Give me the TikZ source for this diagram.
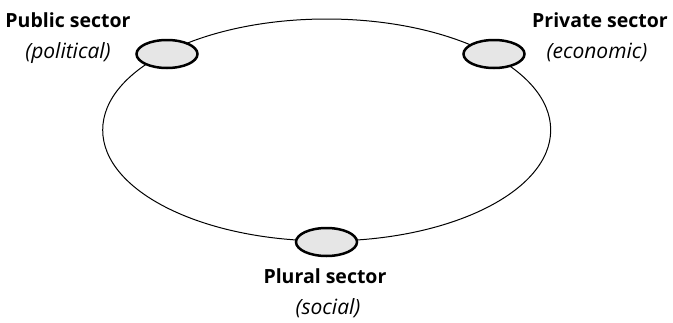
\documentclass[tikz,border=0pt]{standalone}
\usepackage{fontspec}
\setmainfont{Open Sans}
\usetikzlibrary{shapes.geometric}
\definecolor{sectorfill}{HTML}{E6E6E6}
\tikzset{
  sector/.style={ellipse, draw=black, line width=2.5pt, fill=sectorfill,
    minimum width=61pt, minimum height=28pt, inner sep=0pt},
  title/.style={font=\fontsize{19.5}{22}\selectfont\bfseries, inner sep=0pt, anchor=base},
  sub/.style={font=\fontsize{21}{24}\selectfont\itshape, inner sep=0pt, anchor=base},
}
\begin{document}
\begin{tikzpicture}[x=1pt,y=-1pt]
\useasboundingbox (0,0) rectangle (673,322);
\draw[line width=1pt] (326.7,130) ellipse [x radius=224, y radius=111];
\node[sector] (pub) at (167,54) {};
\node[sector] (pri) at (494,54) {};
\node[sector] (plu) at (326.5,242) {};
\node[title] (pubT) at (68,27) {Public sector};
\node[sub] (pubS) at (68,58) {(political)};
\node[title] (priT) at (600,27) {Private sector};
\node[sub] (priS) at (597,58) {(economic)};
\node[title] (pluT) at (325,283) {Plural sector};
\node[sub] (pluS) at (328,314) {(social)};
\end{tikzpicture}
\end{document}
